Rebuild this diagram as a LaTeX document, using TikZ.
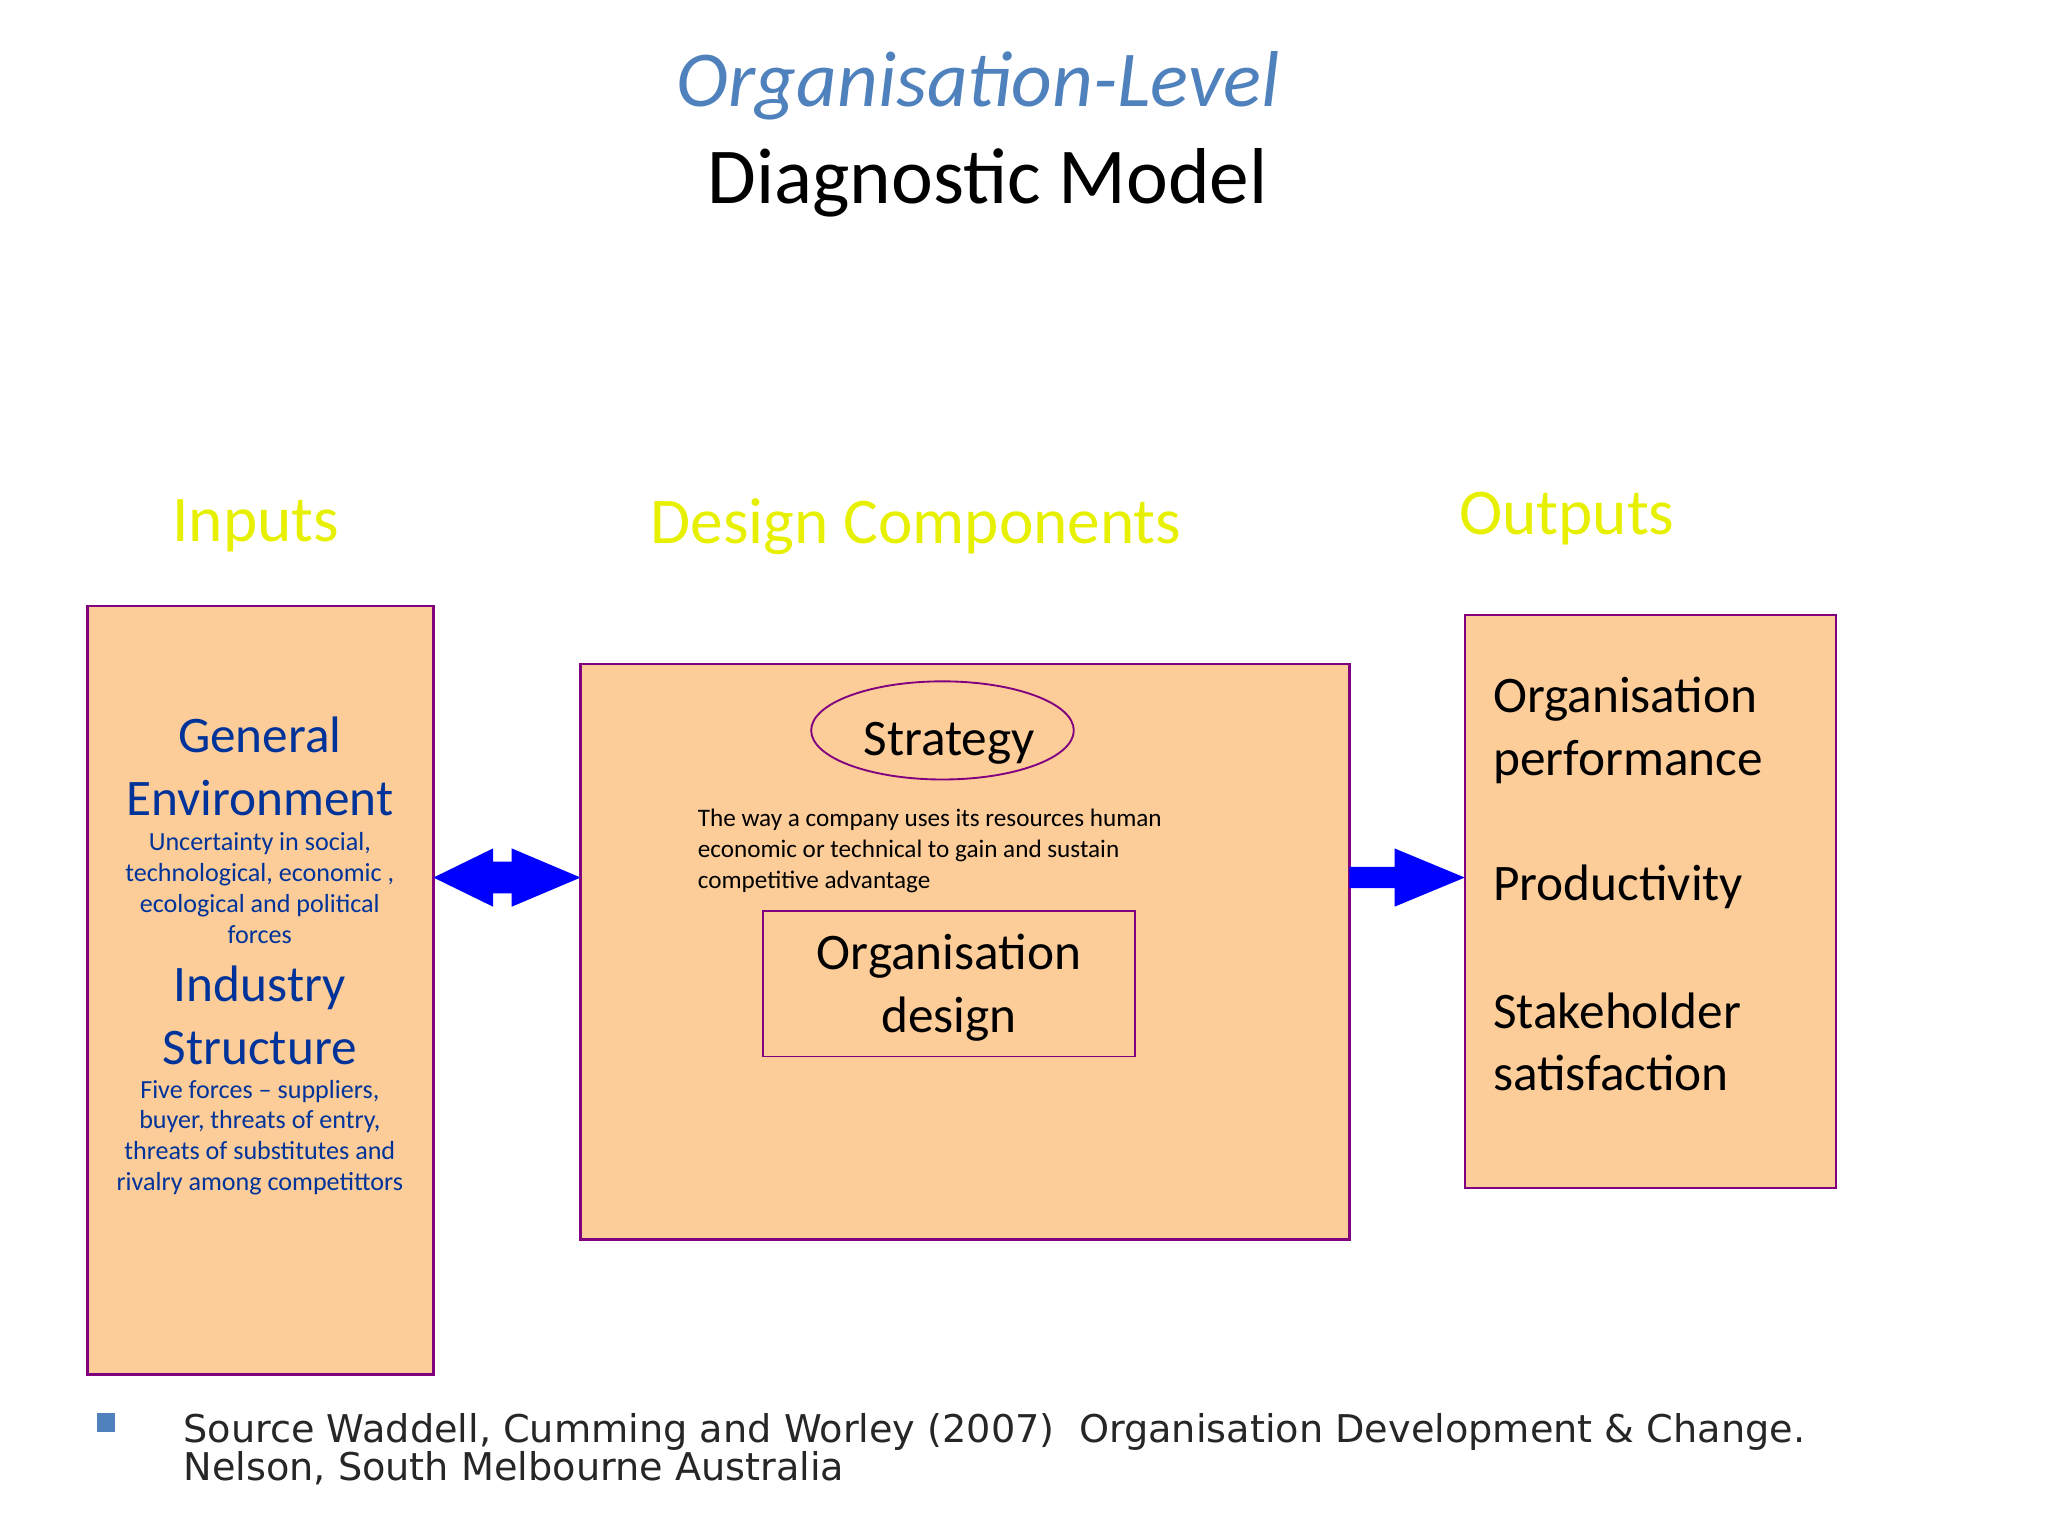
\documentclass[tikz,border=0pt]{standalone}
\usepackage{fontspec}
\setmainfont{Carlito}
\newfontfamily\srcfont{DejaVu Sans}
\usetikzlibrary{shapes.geometric,shapes.arrows}
\definecolor{boxfill}{RGB}{252,204,153}
\definecolor{boxline}{RGB}{128,0,128}
\definecolor{ttlblue}{RGB}{79,129,189}
\definecolor{hdyellow}{RGB}{230,240,0}
\definecolor{dkblue}{RGB}{0,51,153}
\definecolor{arrblue}{RGB}{0,0,255}
\tikzset{
 panel/.style={draw=boxline,fill=boxfill,line width=0.5pt},
 head/.style={font=\fontsize{14}{16}\selectfont,text=hdyellow},
 big/.style={font=\fontsize{11}{13.4}\selectfont},
 small/.style={font=\fontsize{5.3}{6.6}\selectfont},
 arr/.style={fill=arrblue,draw=none}
}
\begin{document}
\begin{tikzpicture}[x=0.01cm,y=-0.01cm]
\useasboundingbox (0,0) rectangle (1545,1159);
\node[font=\itshape\fontsize{17}{20}\selectfont,text=ttlblue] (t1) at (738,65) {Organisation-Level};
\node[font=\fontsize{17}{20}\selectfont] (t2) at (745,138) {Diagnostic Model};
\node[head] (hin) at (193,397) {Inputs};
\node[head] (hdc) at (691,397) {Design Components};
\node[head] (hout) at (1182,391) {Outputs};
% boxes
\draw[panel] (66,457) rectangle (327,1037);
\coordinate (L) at (327,662);
\draw[panel] (438,501) rectangle (1018,935);
\coordinate (M1) at (438,662); \coordinate (M2) at (1018,662);
\draw[panel] (1105,464) rectangle (1385,896);
\coordinate (R) at (1105,662);
% left text
\begin{scope}[text=dkblue]
\node[big,align=center] (ge) at (196,578) {General\\Environment};
\node[align=center,font=\fontsize{5.6}{6.6}\selectfont] (ges) at (196,670) {Uncertainty in social,\\technological, economic ,\\ecological and political\\forces};
\node[big,align=center] (is) at (196,766) {Industry\\Structure};
\node[align=center,font=\fontsize{5.6}{6.6}\selectfont] (iss) at (196,858) {Five forces -- suppliers,\\buyer, threats of entry,\\threats of substitutes and\\rivalry among competittors};
\end{scope}
% middle
\node[ellipse,draw=boxline,minimum width=1.98cm,minimum height=0.74cm,inner sep=0] (st) at (711,551) {};
\node[big] at (716,561) {Strategy};
\node[align=left,anchor=west,font=\fontsize{5.4}{6.6}\selectfont] (sd) at (514,642) {The way a company uses its resources human\\economic or technical to gain and sustain\\competitive advantage};
\node[draw=boxline,minimum width=2.8cm,minimum height=1.1cm,inner sep=0] (od) at (716,742) {};
\node[big,align=center] at (716,745) {Organisation\\design};
% right
\node[big,align=left,anchor=west] (op) at (1114,551) {Organisation\\performance};
\node[big,anchor=west] (pr) at (1114,669) {Productivity};
\node[big,align=left,anchor=west] (ss) at (1114,786) {Stakeholder\\satisfaction};
% arrows
\fill[arr] (L) -- (372,640) -- (372,650) -- (386,650) -- (386,640) -- (M1) -- (386,684) -- (386,674) -- (372,674) -- (372,684) -- cycle;
\fill[arr] (M2) -- ++(0,-8) -- (1052,654) -- (1052,640) -- (R) -- (1052,684) -- (1052,670) -- (1018,670) -- cycle;
% source
\fill[ttlblue] (73,1066) rectangle (87,1080);
\node[anchor=north west,align=left,font=\srcfont\fontsize{8.2}{8.2}\selectfont,text=black!85] (src) at (126,1054) {Source Waddell, Cumming and Worley (2007)\ \ Organisation Development \& Change.\\Nelson, South Melbourne Australia};
\end{tikzpicture}
\end{document}
